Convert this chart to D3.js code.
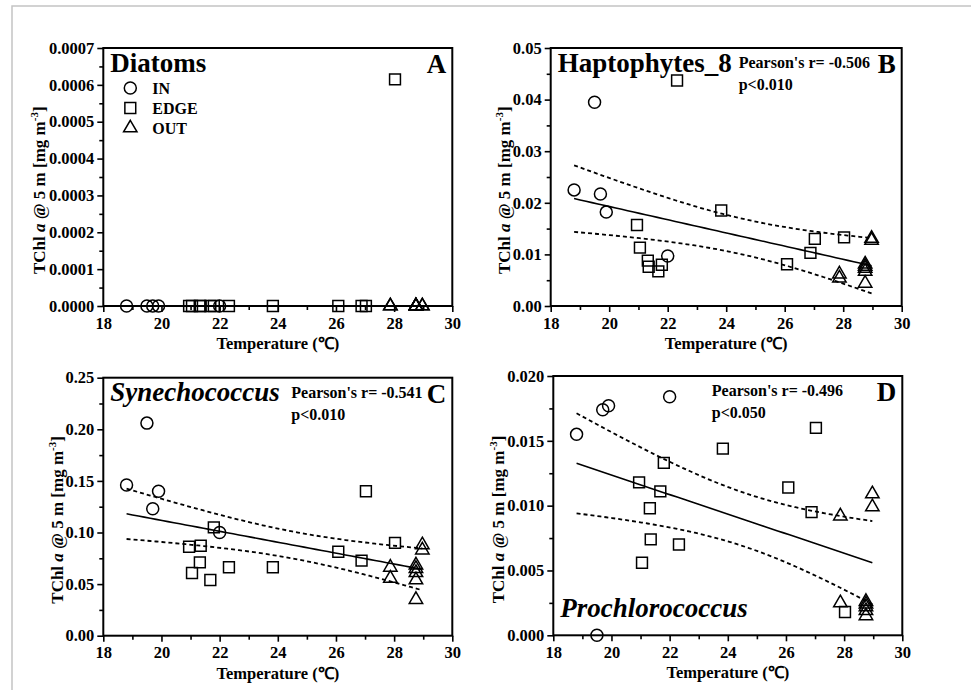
<!DOCTYPE html>
<html lang="en">
<head>
<meta charset="UTF-8">
<title>TChl a @ 5 m vs temperature</title>
<style>
body {margin: 0; background: #fff;}
svg text {font-family: "Liberation Serif", "Times New Roman", serif; font-weight: bold; fill: #000;}
</style>
</head>
<body>
<div id="chart"></div>
<script src="https://d3js.org/d3.v7.min.js"></script>
<script>

// temperature (deg C) of the stations in each group
var inTemp   = [18.8, 19.5, 19.7, 19.9, 22.0];
var edgeTemp = [20.95, 21.05, 21.32, 21.35, 21.68, 21.8, 22.32, 23.83, 26.08, 26.88, 27.03, 28.03];
var outTemp  = [27.87, 27.87, 28.75, 28.75, 28.75, 28.75, 28.75, 28.97, 28.97];

// TChl a @ 5 m [mg m-3], same order as the temperatures above
var diatomsIn   = [0, 0, 0, 0, 0];
var diatomsEdge = [0, 0, 0, 0, 0, 0, 0, 0, 0, 0, 0, 0.000615];
var diatomsOut  = [0, 0, 0, 0, 0, 0, 0, 0, 0];

var haptoIn   = [0.0225, 0.0395, 0.0217, 0.0182, 0.0097];
var haptoEdge = [0.0157, 0.0113, 0.0088, 0.0076, 0.0067, 0.0080, 0.0437, 0.0185, 0.0081, 0.0103, 0.0130, 0.0133];
var haptoOut  = [0.0062, 0.0054, 0.0081, 0.0077, 0.0073, 0.0067, 0.0044, 0.0131, 0.0127];

var synIn   = [0.146, 0.206, 0.123, 0.140, 0.100];
var synEdge = [0.0862, 0.0608, 0.0711, 0.0872, 0.054, 0.105, 0.0663, 0.0663, 0.0814, 0.0727, 0.140, 0.090];
var synOut  = [0.0663, 0.0556, 0.0685, 0.065, 0.061, 0.054, 0.035, 0.088, 0.083];

var proIn   = [0.0155, 0.0, 0.0174, 0.0177, 0.0184];
var proEdge = [0.0118, 0.0056, 0.0098, 0.0074, 0.0111, 0.0133, 0.0070, 0.0144, 0.0114, 0.0095, 0.0160, 0.0018];
var proOut  = [0.0092, 0.0025, 0.0026, 0.0024, 0.0022, 0.0019, 0.0015, 0.0109, 0.0099];

var groups = ["IN", "EDGE", "OUT"];
var xTicks = [18, 20, 22, 24, 26, 28, 30];
var yTicksA = [0, 0.0001, 0.0002, 0.0003, 0.0004, 0.0005, 0.0006, 0.0007];
var yTicksB = [0, 0.01, 0.02, 0.03, 0.04, 0.05];
var yTicksC = [0, 0.05, 0.10, 0.15, 0.20, 0.25];
var yTicksD = [0, 0.005, 0.010, 0.015, 0.020];

// t value for 95% band, n-2 = 24
var tCrit = 2.064;

var W = 971, H = 690;
var svg = d3.select("#chart").append("svg")
    .attr("width", W)
    .attr("height", H);

svg.append("rect").attr("width", W).attr("height", H).attr("fill", "#fff");
svg.append("rect")
    .attr("x", 12).attr("y", 6).attr("width", W).attr("height", H)
    .attr("fill", "none").attr("stroke", "#c4c4c4").attr("stroke-width", 1.5);

var symbols = [d3.symbolCircle, d3.symbolSquare, d3.symbolTriangle];
var symSize = [113, 118, 78];

var panels = [
  {letter: "A", name: "Diatoms", left: 103.3, top: 48, right: 452.3, bottom: 306,
   yMax: 0.0007, yTicks: yTicksA, fmt: ".4f", minor: 0.00005, values: [diatomsIn, diatomsEdge, diatomsOut],
   legend: true, labelX: -58},
  {letter: "B", name: "Haptophytes_8", left: 550.7, top: 48, right: 901.7, bottom: 306,
   yMax: 0.05, yTicks: yTicksB, fmt: ".2f", minor: 0.005, values: [haptoIn, haptoEdge, haptoOut],
   stats: ["Pearson's r= -0.506", "p<0.010"], statsX: 188, labelX: -41},
  {letter: "C", name: "Synechococcus", italic: true, left: 103.3, top: 377.7, right: 452.3, bottom: 635.7,
   yMax: 0.25, yTicks: yTicksC, fmt: ".2f", minor: 0.025, values: [synIn, synEdge, synOut],
   stats: ["Pearson's r= -0.541", "p<0.010"], statsX: 188, labelX: -40},
  {letter: "D", name: "Prochlorococcus", italic: true, nameBottom: true, left: 553.3, top: 376, right: 902.3, bottom: 635.3,
   yMax: 0.020, yTicks: yTicksD, fmt: ".3f", minor: 0.0025, values: [proIn, proEdge, proOut],
   stats: ["Pearson's r= -0.496", "p<0.050"], statsX: 158.5, labelX: -49}
];

var temps = [inTemp, edgeTemp, outTemp];

function linFit(xs, ys) {
  var n = xs.length;
  var mx = d3.mean(xs), my = d3.mean(ys);
  var sxx = 0, sxy = 0;
  for (var i = 0; i < n; i++) {
    sxx += (xs[i] - mx) * (xs[i] - mx);
    sxy += (xs[i] - mx) * (ys[i] - my);
  }
  var b = sxy / sxx, a = my - b * mx;
  var sse = 0;
  for (var j = 0; j < n; j++) sse += Math.pow(ys[j] - a - b * xs[j], 2);
  var s = Math.sqrt(sse / (n - 2));
  return {a: a, b: b, n: n, mx: mx, sxx: sxx, s: s};
}

function drawPanel(p) {
  var w = p.right - p.left, h = p.bottom - p.top;
  var g = svg.append("g").attr("transform", "translate(" + p.left + "," + p.top + ")");

  var x = d3.scaleLinear().domain([18, 30]).range([0, w]);
  var y = d3.scaleLinear().domain([0, p.yMax]).range([h, 0]);

  // minor ticks
  g.append("g").attr("transform", "translate(0," + h + ")")
    .call(d3.axisBottom(x).tickValues(d3.range(19, 30, 2)).tickSize(4).tickSizeOuter(0).tickFormat(""));
  g.append("g")
    .call(d3.axisLeft(y).tickValues(d3.range(p.minor, p.yMax, p.minor * 2)).tickSize(4).tickSizeOuter(0).tickFormat(""));

  // major ticks
  g.append("g").attr("transform", "translate(0," + h + ")")
    .call(d3.axisBottom(x).tickValues(xTicks).tickSize(6).tickSizeOuter(0).tickPadding(5).tickFormat(d3.format("d")));
  g.append("g")
    .call(d3.axisLeft(y).tickValues(p.yTicks).tickSize(6).tickSizeOuter(0).tickPadding(3).tickFormat(d3.format(p.fmt)));

  g.selectAll(".domain").remove();
  g.selectAll(".tick line").attr("stroke", "#000").attr("stroke-width", 1.6);
  g.selectAll(".tick text").style("font-size", "16.5px").attr("fill", "#000");

  g.append("rect")
    .attr("width", w).attr("height", h)
    .attr("fill", "none").attr("stroke", "#000").attr("stroke-width", 2);

  // regression and 95% bands
  if (p.stats) {
    var xs = [], ys = [];
    for (var k = 0; k < 3; k++) {
      xs = xs.concat(temps[k]);
      ys = ys.concat(p.values[k]);
    }
    var f = linFit(xs, ys);
    var grid = d3.range(0, 51).map(function(i) {
      return d3.min(xs) + (d3.max(xs) - d3.min(xs)) * i / 50;
    });
    var band = function(sign) {
      return d3.line()
        .x(function(t) { return x(t); })
        .y(function(t) {
          var se = f.s * Math.sqrt(1 / f.n + Math.pow(t - f.mx, 2) / f.sxx);
          return y(f.a + f.b * t + sign * tCrit * se);
        });
    };
    g.append("path").datum(grid).attr("d", band(0))
      .attr("fill", "none").attr("stroke", "#000").attr("stroke-width", 1.6);
    [1, -1].forEach(function(sg) {
      g.append("path").datum(grid).attr("d", band(sg))
        .attr("fill", "none").attr("stroke", "#000").attr("stroke-width", 1.8)
        .attr("stroke-dasharray", "4,3");
    });

    g.append("text").attr("x", p.statsX).attr("y", 20).style("font-size", "16px").text(p.stats[0]);
    g.append("text").attr("x", p.statsX).attr("y", 42).style("font-size", "16px").text(p.stats[1]);
  }

  // points
  groups.forEach(function(grp, k) {
    var pts = temps[k].map(function(t, i) { return [t, p.values[k][i]]; });
    g.selectAll(".pt" + k).data(pts).enter().append("path")
      .attr("class", "pt" + k)
      .attr("d", d3.symbol().type(symbols[k]).size(symSize[k]))
      .attr("transform", function(d) { return "translate(" + x(d[0]) + "," + y(d[1]) + ")"; })
      .attr("fill", "none").attr("stroke", "#000").attr("stroke-width", 1.5);
  });

  // legend
  if (p.legend) {
    groups.forEach(function(grp, k) {
      var ly = 40 + k * 20;
      g.append("path")
        .attr("d", d3.symbol().type(symbols[k]).size(symSize[k]))
        .attr("transform", "translate(27," + ly + ")")
        .attr("fill", "none").attr("stroke", "#000").attr("stroke-width", 1.5);
      g.append("text").attr("x", 49).attr("y", ly + 5.5).style("font-size", "16px").text(grp);
    });
  }

  // titles
  g.append("text")
    .attr("x", 7)
    .attr("y", p.nameBottom ? h - 18 : 23.5)
    .style("font-size", "27px")
    .style("font-style", p.italic ? "italic" : "normal")
    .text(p.name);
  g.append("text")
    .attr("x", w - 6).attr("y", 25)
    .attr("text-anchor", "end")
    .style("font-size", "27px")
    .text(p.letter);

  // axis titles
  g.append("text")
    .attr("x", w / 2).attr("y", h + 43)
    .attr("text-anchor", "middle")
    .style("font-size", "16.5px")
    .text("Temperature (\u2103)");

  var yl = g.append("text")
    .attr("transform", "translate(" + p.labelX + "," + (h - 32) + ") rotate(-90)")
    .style("font-size", "17px");
  yl.append("tspan").text("TChl ");
  yl.append("tspan").style("font-style", "italic").text("a");
  yl.append("tspan").text(" @ 5 m [mg m");
  yl.append("tspan").attr("dy", -7).style("font-size", "11px").text("-3");
  yl.append("tspan").attr("dy", 7).text("]");
}

panels.forEach(drawPanel);

</script>
</body>
</html>
